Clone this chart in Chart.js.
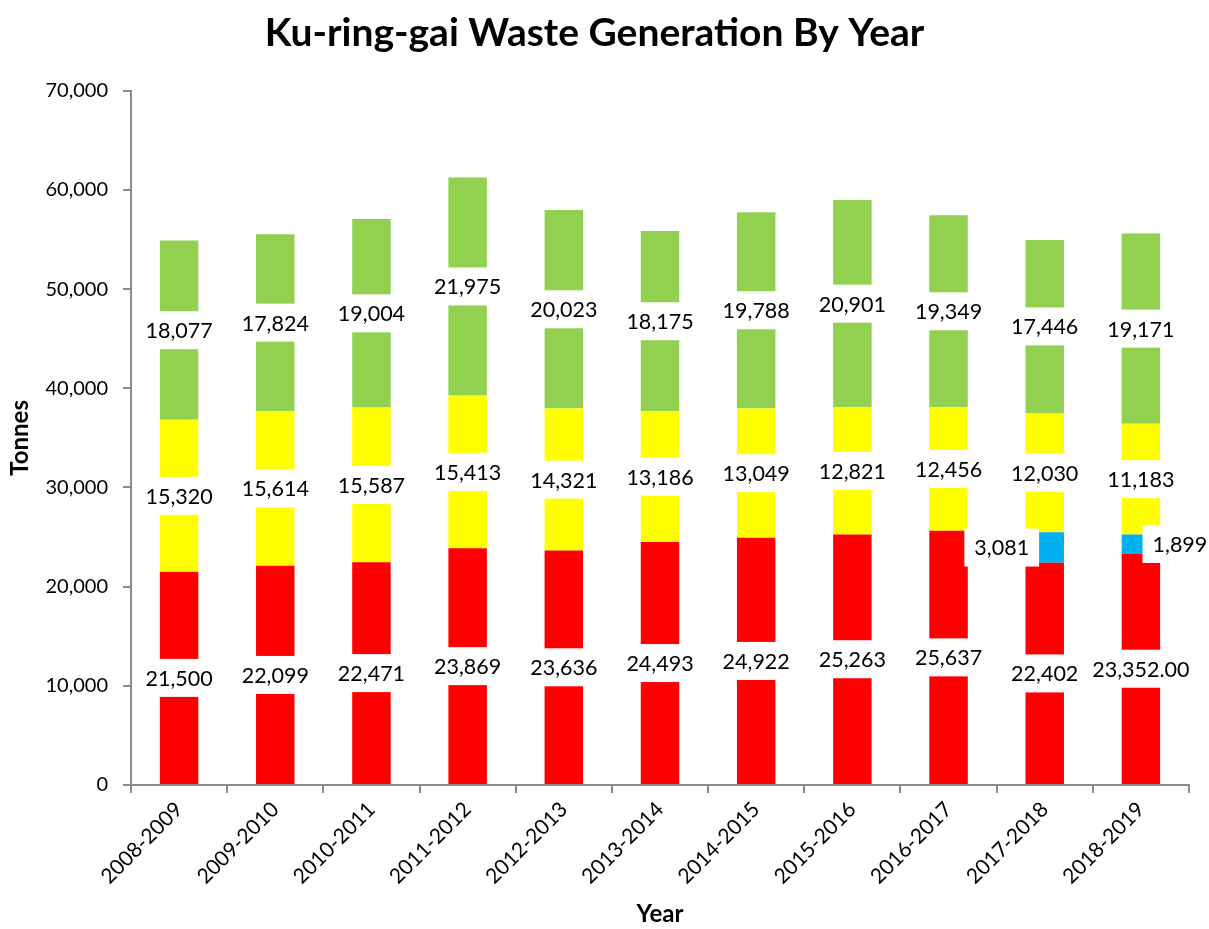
<!DOCTYPE html>
<html>
<head>
<meta charset="utf-8">
<script src="https://cdn.jsdelivr.net/npm/chart.js@4"></script>
<style>
  html, body { margin: 0; padding: 0; background: #fff; }
  #wrap { width: 1209px; height: 929px; }
</style>
</head>
<body>
<div id="wrap"><canvas id="waste-chart"></canvas></div>
<script>
const years = ['2008-2009', '2009-2010', '2010-2011', '2011-2012', '2012-2013', '2013-2014',
    '2014-2015', '2015-2016', '2016-2017', '2017-2018', '2018-2019'];
const redValues = [21500, 22099, 22471, 23869, 23636, 24493, 24922, 25263, 25637, 22402, 23352];
const blueValues = [null, null, null, null, null, null, null, null, null, 3081, 1899];
const yellowValues = [15320, 15614, 15587, 15413, 14321, 13186, 13049, 12821, 12456, 12030, 11183];
const greenValues = [18077, 17824, 19004, 21975, 20023, 18175, 19788, 20901, 19349, 17446, 19171];
const yTicks = [0, 10000, 20000, 30000, 40000, 50000, 60000, 70000];

var fontName = 'Lato, "Open Sans", sans-serif';
var axisColor = '#8c8c8c';

// labels drawn in white boxes over the middle of each segment, like the excel original
const boxLabels = {
    id: 'boxLabels',
    afterDatasetsDraw(chart) {
        const ctx = chart.ctx;
        ctx.save();
        ctx.font = '21.5px ' + fontName;
        ctx.textAlign = 'center';
        ctx.textBaseline = 'middle';
        chart.data.datasets.forEach((ds, i) => {
            const meta = chart.getDatasetMeta(i);
            meta.data.forEach((bar, j) => {
                const v = ds.data[j];
                if (v == null) return;
                var text = v.toLocaleString('en-US');
                if (ds.decimalsAt == j) {
                    text = v.toLocaleString('en-US', { minimumFractionDigits: 2 });
                }
                const nudge = (ds.labelNudge && ds.labelNudge[years[j]]) || 0;
                const x = bar.x + nudge;
                const y = (bar.y + bar.base) / 2;
                const w = ctx.measureText(text).width + 20;
                ctx.fillStyle = '#ffffff';
                ctx.fillRect(x - w / 2, y - 19, w, 38);
                ctx.fillStyle = '#000000';
                ctx.fillText(text, x, y + 1);
            });
        });
        ctx.restore();
    }
};

const data = {
    labels: years,
    datasets: [{
        label: 'Red',
        data: redValues,
        backgroundColor: '#ff0000',
        decimalsAt: 10,
    }, {
        label: 'Blue',
        data: blueValues,
        backgroundColor: '#00b0f0',
        labelNudge: { '2017-2018': -43, '2018-2019': 39 },
    }, {
        label: 'Yellow',
        data: yellowValues,
        backgroundColor: '#ffff00',
    }, {
        label: 'Green',
        data: greenValues,
        backgroundColor: '#92d050',
    }]
};

const config = {
    type: 'bar',
    data: data,
    plugins: [boxLabels],
    options: {
        responsive: true,
        maintainAspectRatio: false,
        animation: false,
        datasets: {
            bar: {
                categoryPercentage: 1.0,
                barPercentage: 0.4,
            }
        },
        layout: {
            padding: { left: 0, right: 20, top: 2, bottom: 0 }
        },
        plugins: {
            legend: { display: false },
            tooltip: { enabled: false },
            title: {
                display: true,
                text: 'Ku-ring-gai Waste Generation By Year',
                color: '#000',
                font: { family: fontName, size: 39, weight: 'bold' },
                padding: { top: 8, bottom: 34 }
            }
        },
        scales: {
            x: {
                stacked: true,
                grid: {
                    drawOnChartArea: false,
                    color: axisColor,
                    lineWidth: 2,
                    tickLength: 8,
                    offset: true,
                },
                border: { color: axisColor, width: 2 },
                ticks: {
                    color: '#000',
                    font: { family: fontName, size: 21 },
                    minRotation: 45,
                    maxRotation: 45,
                    padding: 4,
                },
                title: {
                    display: true,
                    text: 'Year',
                    color: '#000',
                    font: { family: fontName, size: 24, weight: 'bold' },
                    padding: { top: 0, bottom: 0 }
                },
                afterFit: (s) => { s.height = 144; }
            },
            y: {
                stacked: true,
                min: 0,
                max: 70000,
                grid: {
                    drawOnChartArea: false,
                    color: axisColor,
                    lineWidth: 2,
                    tickLength: 8,
                },
                border: { color: axisColor, width: 2 },
                afterBuildTicks: (s) => { s.ticks = yTicks.map(v => ({ value: v })); },
                ticks: {
                    color: '#000',
                    font: { family: fontName, size: 20 },
                    padding: 15,
                    callback: (v) => v.toLocaleString('en-US'),
                },
                title: {
                    display: true,
                    text: 'Tonnes',
                    color: '#000',
                    font: { family: fontName, size: 24, weight: 'bold' },
                    padding: { top: 6, bottom: 0 }
                },
                afterFit: (s) => { s.width = 131; }
            }
        }
    }
};

new Chart(document.getElementById('waste-chart'), config);
</script>
</body>
</html>
